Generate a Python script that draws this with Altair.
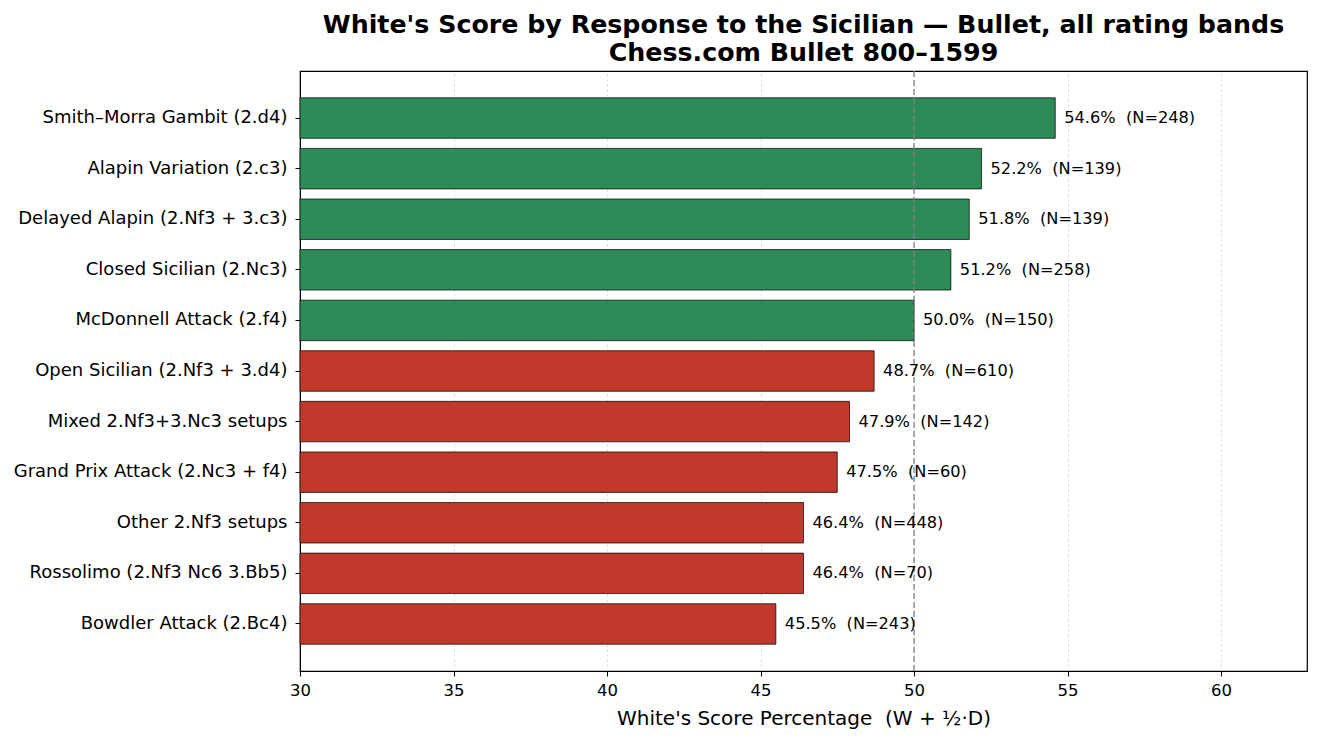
import altair as alt
import pandas as pd

# openings, top to bottom
openings = [
    "Smith–Morra Gambit (2.d4)",
    "Alapin Variation (2.c3)",
    "Delayed Alapin (2.Nf3 + 3.c3)",
    "Closed Sicilian (2.Nc3)",
    "McDonnell Attack (2.f4)",
    "Open Sicilian (2.Nf3 + 3.d4)",
    "Mixed 2.Nf3+3.Nc3 setups",
    "Grand Prix Attack (2.Nc3 + f4)",
    "Other 2.Nf3 setups",
    "Rossolimo (2.Nf3 Nc6 3.Bb5)",
    "Bowdler Attack (2.Bc4)",
]
scores = [54.6, 52.2, 51.8, 51.2, 50.0, 48.7, 47.9, 47.5, 46.4, 46.4, 45.5]
games = [248, 139, 139, 258, 150, 610, 142, 60, 448, 70, 243]

df = pd.DataFrame({"opening": openings, "score": scores, "n": games})
# non-breaking space keeps the double gap in svg
df["label"] = [f"{s:.1f}%\u00a0 (N={n})" for s, n in zip(scores, games)]
df["side"] = ["good" if s >= 50 else "bad" for s in scores]

FONT = "DejaVu Sans"

x = alt.X("score:Q", title="White's Score Percentage\u00a0 (W + ½·D)",
          scale=alt.Scale(domain=[30, 62.8], nice=False, zero=False, clamp=True),
          axis=alt.Axis(values=[30, 35, 40, 45, 50, 55, 60], grid=True,
                        gridColor="#cccccc", gridDash=[2, 3], gridWidth=0.8,
                        domainColor="black", tickColor="black", tickSize=5,
                        labelFontSize=16.5, titleFontSize=20, titleFontWeight="normal",
                        labelColor="black", titleColor="black", labelPadding=6,
                        labelFlush=False, titlePadding=10,
                        labelFont=FONT, titleFont=FONT))
y = alt.Y("opening:N", sort=openings, title=None,
          scale=alt.Scale(paddingInner=0.2, paddingOuter=0.53),
          axis=alt.Axis(domainColor="black", tickColor="black", tickSize=5,
                        labelFontSize=18, labelColor="black", labelPadding=8,
                        labelFont=FONT, labelLimit=400, grid=False))

bars = alt.Chart(df).mark_bar(stroke="black", strokeWidth=0.7).encode(
    x=x,
    x2=alt.datum(30),
    y=y,
    color=alt.Color("side:N", legend=None,
                    scale=alt.Scale(domain=["good", "bad"], range=["#2e8b57", "#c0392b"])),
)

labels = alt.Chart(df).mark_text(align="left", baseline="middle", dx=9,
                                 fontSize=16.2, font=FONT, color="black").encode(
    x="score:Q",
    y=alt.Y("opening:N", sort=openings),
    text="label:N",
)

even = alt.Chart(pd.DataFrame({"v": [50]})).mark_rule(
    color="#808080", strokeDash=[6, 3], strokeWidth=1.3
).encode(x="v:Q")

chart = alt.layer(bars, even, labels).properties(
    width=1007,
    height=600,
    title=alt.Title(
        ["White's Score by Response to the Sicilian — Bullet, all rating bands",
         "Chess.com Bullet 800–1599"],
        font=FONT, fontSize=25.3, fontWeight="bold", color="black",
        anchor="middle", lineHeight=28, offset=4,
    ),
    padding={"left": 292, "top": 63, "right": 5, "bottom": 60},
    autosize=alt.AutoSizeParams(type="none"),
).configure_view(stroke="black", strokeWidth=1.2)

chart.save("out.html", embed_options={"renderer": "svg", "actions": False})
